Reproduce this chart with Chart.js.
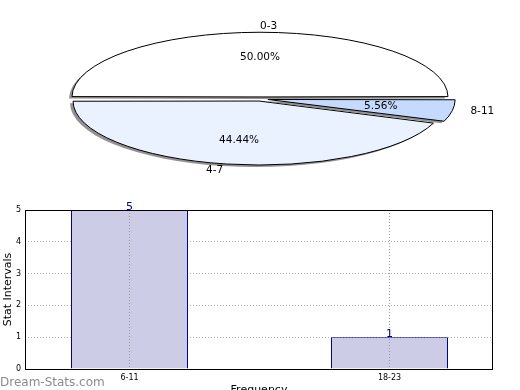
<!DOCTYPE html>
<html>
<head>
<meta charset="utf-8">
<script src="https://cdn.jsdelivr.net/npm/chart.js@4/dist/chart.umd.min.js"></script>
<style>
  html, body { margin: 0; padding: 0; background: #ffffff; overflow: hidden; width: 520px; height: 390px; }
  #bar { position: absolute; left: 0; top: 0; }
  #pie { position: absolute; left: 0; top: 0; }
</style>
</head>
<body>
<canvas id="bar" width="520" height="400"></canvas>
<canvas id="pie" width="520" height="190"></canvas>
<script>
// ---- data ----
const pieLabels = ['0-3', '4-7', '8-11'];
const pieValues = [9, 8, 1];
const pieColors = ['#ffffff', '#ebf2ff', '#c6daff'];
const pieExplode = [24, 24, 32];

const barLabels = ['6-11', '18-23'];
const barValues = [5, 1];
const yTicks = [0, 1, 2, 3, 4, 5];

const FONT = "'DejaVu Sans', Verdana, sans-serif";

// ---- pie (drawn as a squashed, flipped pie so it reads counter-clockwise) ----
const PIE_CX = 260, PIE_CY = 99, PIE_SY = 0.344, PIE_R = 182;
const OFF_DIV = 4;

const ellipsePlugin = {
  id: 'ellipse',
  beforeDatasetsDraw(chart) {
    const ctx = chart.ctx;
    const a = chart.chartArea;
    const cx = (a.left + a.right) / 2, cy = (a.top + a.bottom) / 2;
    ctx.save();
    ctx.translate(PIE_CX, PIE_CY);
    ctx.scale(1, -PIE_SY);
    ctx.translate(-cx, -cy);
    ctx.shadowColor = 'rgba(100,100,100,0.7)';
    ctx.shadowOffsetX = -3;
    ctx.shadowOffsetY = 2;
    ctx.shadowBlur = 0;
    const origStroke = ctx.stroke;
    ctx._origStroke = origStroke;
    ctx.stroke = function () {
      this.save();
      this.setTransform(1, 0, 0, 1, 0, 0);
      this.shadowColor = 'rgba(0,0,0,0)';
      this.lineWidth = 1;
      this.strokeStyle = '#000000';
      origStroke.apply(this, arguments);
      this.restore();
    };
  },
  afterDatasetsDraw(chart) {
    const ctx = chart.ctx;
    ctx.stroke = ctx._origStroke;
    delete ctx._origStroke;
    ctx.restore();
    const meta = chart.getDatasetMeta(0);
    const total = pieValues.reduce((s, v) => s + v, 0);
    ctx.save();
    ctx.fillStyle = '#000000';
    ctx.textBaseline = 'middle';
    ctx.font = '10.5px ' + FONT;
    meta.data.forEach((arc, i) => {
      const mid = (arc.startAngle + arc.endAngle) / 2;
      const off = (arc.options.offset || 0) / OFF_DIV;
      const R = arc.outerRadius;
      const toScreen = (r) => {
        const px = Math.cos(mid) * r, py = Math.sin(mid) * r;
        return [PIE_CX + px, PIE_CY - PIE_SY * py];
      };
      const [ix, iy] = toScreen(R * 0.63 + off);
      ctx.textAlign = 'center';
      ctx.fillText((pieValues[i] / total * 100).toFixed(2) + '%', ix, iy);
      const [ox, oy] = toScreen(R * 1.13 + off);
      ctx.textAlign = Math.cos(mid) >= 0 ? 'left' : 'right';
      ctx.fillText(pieLabels[i], ox, oy);
    });
    ctx.restore();
  }
};

new Chart(document.getElementById('pie'), {
  type: 'pie',
  data: {
    labels: pieLabels,
    datasets: [{
      data: pieValues,
      backgroundColor: pieColors,
      borderColor: '#000000',
      borderWidth: 1,
      offset: pieExplode,
      clip: false
    }]
  },
  options: {
    responsive: false,
    animation: false,
    events: [],
    rotation: 90,
    radius: PIE_R,
    plugins: { legend: { display: false }, tooltip: { enabled: false } }
  },
  plugins: [ellipsePlugin]
});

// ---- bar chart ----
const boxPlugin = {
  id: 'box',
  afterDraw(chart) {
    const ctx = chart.ctx;
    const a = chart.chartArea;
    ctx.save();
    ctx.strokeStyle = '#000000';
    ctx.lineWidth = 1;
    ctx.strokeRect(Math.round(a.left) + 0.5, Math.round(a.top) + 0.5,
                   Math.round(a.right - a.left) - 1, Math.round(a.bottom - a.top));
    const meta = chart.getDatasetMeta(0);
    ctx.fillStyle = '#000080';
    ctx.font = '11px ' + FONT;
    ctx.textAlign = 'center';
    ctx.textBaseline = 'alphabetic';
    meta.data.forEach((bar, i) => {
      ctx.fillText(String(barValues[i]), bar.x, bar.y);
    });
    ctx.fillStyle = '#8c8c8c';
    ctx.font = '12px ' + FONT;
    ctx.textAlign = 'left';
    ctx.fillText('Dream-Stats.com', 0, 386);
    ctx.restore();
  }
};

new Chart(document.getElementById('bar'), {
  type: 'bar',
  data: {
    datasets: [{
      data: barValues.map((v, i) => ({ x: i, y: v })),
      backgroundColor: '#ccccE6',
      borderColor: '#000080',
      borderWidth: 1,
      categoryPercentage: 0.45,
      barPercentage: 1.0
    }]
  },
  options: {
    responsive: false,
    animation: false,
    events: [],
    layout: { padding: { top: 210, right: 27, left: 0, bottom: 0 } },
    plugins: { legend: { display: false }, tooltip: { enabled: false } },
    scales: {
      x: {
        type: 'linear',
        offset: false,
        min: -0.402,
        max: 1.398,
        afterBuildTicks(s) { s.ticks = barLabels.map((_, i) => ({ value: i })); },
        afterFit(s) { s.height = 31; },
        ticks: {
          callback: (v) => barLabels[v] !== undefined ? barLabels[v] : '',
          font: { size: 8, family: FONT },
          color: '#000000',
          padding: 4,
          maxRotation: 0,
          autoSkip: false
        },
        grid: { color: '#9a9a9a', drawTicks: false, offset: false, z: 1 },
        border: { display: false, dash: [1, 2] },
        title: { display: true, text: 'Frequency', font: { size: 11, family: FONT }, color: '#000000', padding: { top: 0, bottom: 3 } }
      },
      y: {
        min: 0,
        max: 5,
        afterBuildTicks(s) { s.ticks = yTicks.map(v => ({ value: v })); },
        afterFit(s) { s.width = 25; },
        ticks: {
          font: { size: 8, family: FONT },
          color: '#000000',
          padding: 4
        },
        grid: { color: '#aaaaaa', drawTicks: false },
        border: { display: false, dash: [1, 2] },
        title: { display: true, text: 'Stat Intervals', font: { size: 11, family: FONT }, color: '#000000', padding: { top: 2, bottom: 0 } }
      }
    }
  },
  plugins: [boxPlugin]
});
</script>
</body>
</html>
